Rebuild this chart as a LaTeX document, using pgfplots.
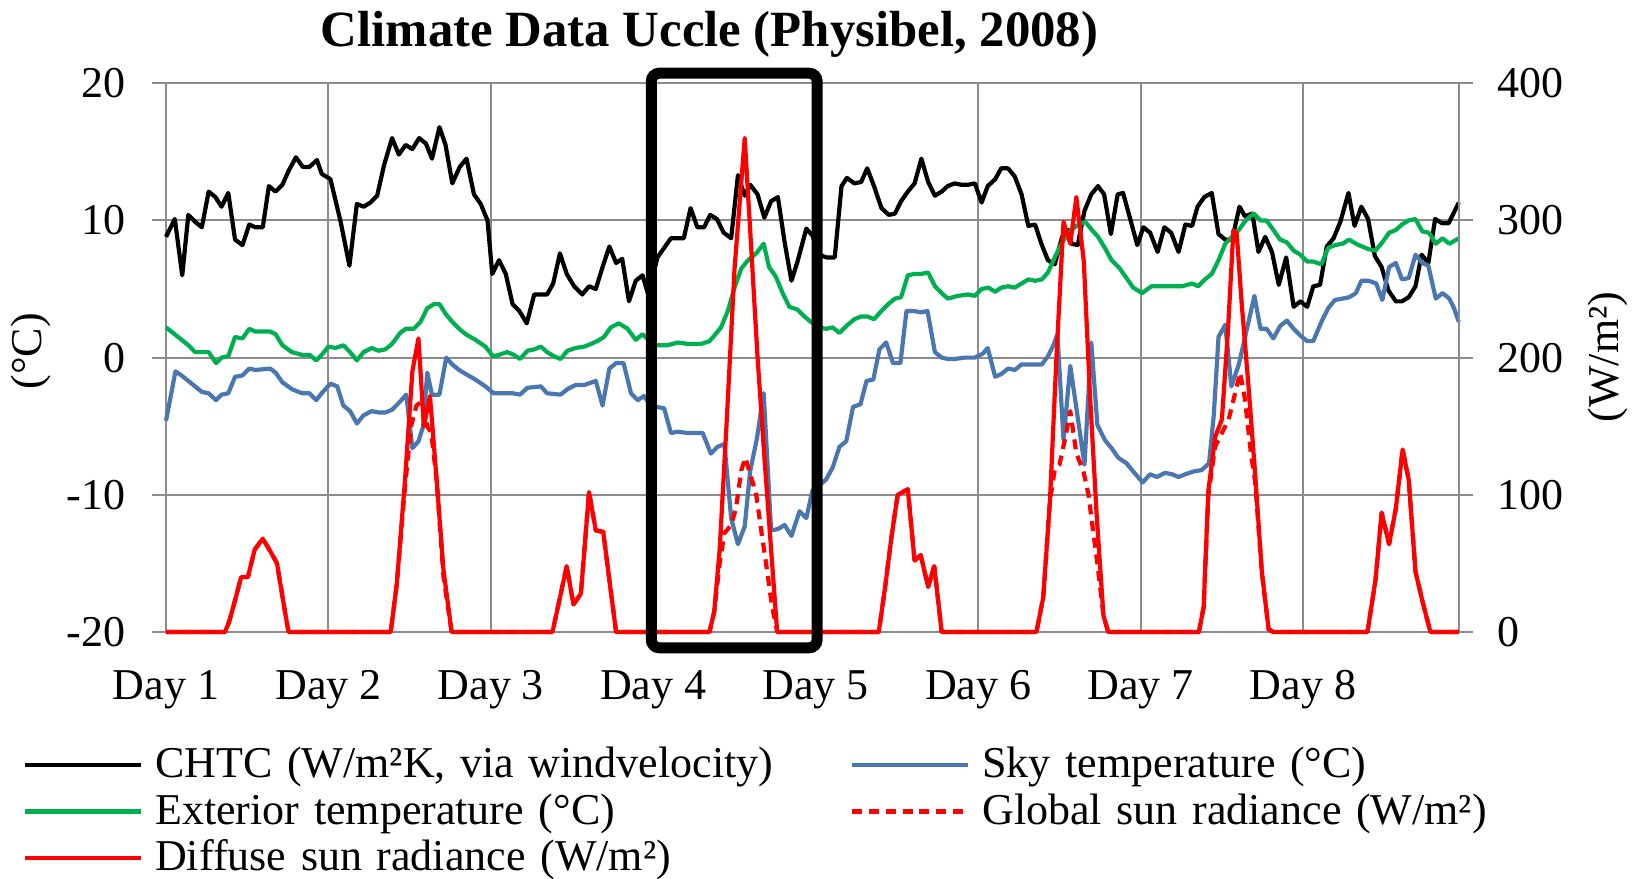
\documentclass[border=0pt]{standalone}
\usepackage{fontspec}
\setmainfont{Liberation Serif}
\usepackage{pgfplots}
\pgfplotsset{compat=1.18}
\definecolor{skyblue}{HTML}{4A77B0}
\definecolor{extgreen}{HTML}{00B050}
\definecolor{gridgray}{HTML}{8C8C8C}
\begin{document}
\begin{tikzpicture}
\begin{axis}[
  scale only axis, width=323.2pt, height=137.2pt,
  xmin=0, xmax=191, ymin=-20, ymax=20,
  xtick={0,24,48,72,96,120,144,168},
  xticklabels={Day 1,Day 2,Day 3,Day 4,Day 5,Day 6,Day 7,Day 8},
  ytick={-20,-10,0,10,20},
  yticklabels={-20,-10,0,10,20},
  grid=major, grid style={gridgray, line width=0.5pt},
  axis line style={gridgray, line width=0.5pt},
  ytick pos=left, tick align=outside, major tick length=3.5pt,
  major tick style={gridgray, line width=0.5pt},
  xtick style={draw=none},
  tick label style={font=\fontsize{11}{13}\selectfont},
  yticklabel style={anchor=east, inner sep=0pt, xshift=-6.5pt},
  xticklabel style={anchor=base, inner sep=0pt, yshift=-13.25pt},
  clip=false,
  every axis plot/.append style={line width=1.05pt, line join=round},
]
% CHTC
\addplot[black] coordinates {
(0,8.8)(1.3,10.1)(2.4,6.0)(3.3,10.4)(4.3,9.9)(5.3,9.5)(6.3,12.1)(7.3,11.7)(8.2,11.0)(9.2,12.0)
(10.2,8.6)(11.3,8.2)(12.3,9.7)(13.2,9.5)(14.3,9.5)(15.2,12.5)(16.2,12.1)(17.2,12.6)(18.1,13.6)(19.2,14.6)
(20.2,13.9)(21.2,13.9)(22.3,14.4)(23,13.4)(24.3,13.0)(25.8,9.9)(27.1,6.7)(28.2,11.2)(29.2,11.0)(30.2,11.3)
(31.2,11.8)(32.2,14.0)(33.4,16.0)(34.4,14.8)(35.4,15.5)(36.4,15.2)(37.4,16.0)(38.4,15.6)(39.3,14.5)(40.4,16.8)
(41.3,15.5)(42.3,12.7)(43.4,13.9)(44.4,14.5)(45.5,11.9)(46.5,11.2)(47.5,10.0)(48.2,6.1)(49.2,7.1)(50.2,6.1)
(51.2,3.9)(52.2,3.4)(53.3,2.5)(54.4,4.6)(55.4,4.6)(56.3,4.6)(57.2,5.4)(58.2,7.6)(59.2,6.1)(60.3,5.2)
(61.5,4.6)(62.5,5.2)(63.5,5.0)(64.5,6.6)(65.5,8.1)(66.5,6.9)(67.4,7.2)(68.4,4.1)(69.4,5.6)(70.4,6.0)
(71.3,4.5)(72.2,6.5)(72.6,7.3)(73.6,8.0)(74.6,8.7)(76.5,8.7)(77.5,10.9)(78.5,9.5)(79.5,9.5)(80.4,10.4)
(81.4,10.1)(82.4,9.1)(83.5,8.7)(84.5,13.3)(85.5,11.8)(86.3,12.6)(87.4,11.9)(88.4,10.2)(89.4,11.4)(90.4,11.7)
(91.4,8.4)(92.4,5.6)(93.3,7.0)(94.6,9.4)(95.5,8.9)(96.5,7.5)(97.6,7.3)(98.8,7.3)(99.8,12.5)(100.6,13.1)
(101.7,12.7)(102.7,12.8)(103.6,13.8)(104.6,12.5)(105.7,10.9)(106.8,10.4)(107.7,10.5)(108.6,11.4)(109.6,12.1)(110.6,12.7)
(111.6,14.5)(112.6,12.8)(113.6,11.8)(114.6,12.1)(115.5,12.5)(116.5,12.7)(117.5,12.6)(118.5,12.6)(119.5,12.7)(120.5,11.3)
(121.4,12.5)(122.5,13.0)(123.4,13.8)(124.4,13.8)(125.4,13.2)(126.4,11.9)(127.4,9.6)(128.4,9.7)(129.4,8.2)(130.3,7.1)
(131.3,6.8)(132.4,8.8)(133.3,9.3)(133.8,8.3)(134.7,8.2)(135.7,10.7)(136.7,11.9)(137.7,12.5)(138.6,11.9)(139.6,9.0)
(140.6,11.9)(141.4,12.0)(142.4,10.2)(143.5,8.2)(144.4,9.5)(145.4,9.1)(146.5,7.7)(147.5,9.5)(148.5,9.1)(149.6,7.7)
(150.6,9.7)(151.6,9.6)(152.4,11.0)(153.4,11.7)(154.5,12.0)(155.5,9.0)(156.5,8.6)(157.5,8.6)(158.6,11.0)(159.4,10.3)
(160.5,10.5)(161.4,7.7)(162.4,8.8)(163.4,7.7)(164.4,5.3)(165.5,7.3)(166.6,3.7)(167.6,4.1)(168.6,3.7)(169.5,5.2)
(170.5,5.3)(171.5,8.1)(172.5,8.7)(173.5,9.9)(174.7,12.0)(175.6,9.6)(176.6,11.0)(177.6,10.1)(178.6,7.4)(179.6,6.6)
(180.6,4.9)(181.7,4.1)(182.6,4.1)(183.6,4.4)(184.6,5.2)(185.5,7.5)(186.5,6.9)(187.5,10.1)(188.5,9.8)(189.5,9.8)
(190.3,10.6)(191,11.3)
};
% Sky temperature
\addplot[skyblue] coordinates {
(0,-4.6)(1.4,-1.0)(2.3,-1.3)(3.3,-1.7)(4.3,-2.1)(5.3,-2.5)(6.3,-2.6)(7.4,-3.1)(8.2,-2.7)(9.2,-2.6)
(10.2,-1.4)(11.3,-1.3)(12.3,-0.8)(13.2,-0.9)(15.4,-0.8)(16.2,-1.1)(17.2,-1.8)(18.6,-2.3)(20.1,-2.6)(21.2,-2.6)
(22.2,-3.1)(23,-2.6)(24.3,-1.9)(25.3,-2.1)(26.2,-3.5)(27.2,-3.9)(28.2,-4.8)(29.2,-4.2)(30.4,-3.9)(31.4,-4.0)
(32.4,-4.0)(33.4,-3.8)(34.4,-3.3)(35.5,-2.7)(36.4,-6.6)(37.3,-6.1)(38.0,-5.0)(38.6,-1.1)(39.3,-2.7)(40.4,-2.7)
(41.4,0.0)(42.3,-0.5)(43.3,-0.9)(44.3,-1.2)(45.7,-1.6)(47.2,-2.1)(48.4,-2.6)(49.4,-2.6)(51.2,-2.6)(52.3,-2.7)
(53.4,-2.2)(55.4,-2.1)(56.3,-2.6)(58.3,-2.7)(59.3,-2.3)(60.5,-2.0)(61.8,-2.0)(63.5,-1.7)(64.5,-3.5)(65.5,-0.8)
(66.5,-0.4)(67.6,-0.4)(68.7,-2.6)(69.7,-3.1)(70.6,-2.8)(71.6,-3.5)(72.6,-3.6)(73.6,-3.7)(74.6,-5.5)(75.6,-5.4)
(77.1,-5.5)(79.3,-5.5)(80.5,-7.0)(81.5,-6.5)(82.5,-6.3)(83.5,-11.7)(84.5,-13.6)(85.5,-12.3)(86.3,-8.3)(87.3,-5.9)
(88.3,-2.6)(89.4,-12.6)(90.4,-12.5)(91.4,-12.2)(92.4,-13.0)(93.6,-11.2)(94.6,-11.7)(95.5,-9.7)(96.5,-9.3)(97.5,-8.9)
(98.5,-8.0)(99.5,-6.5)(100.5,-6.1)(101.5,-3.6)(102.6,-3.4)(103.5,-1.7)(104.5,-1.6)(105.4,0.6)(106.4,1.1)(107.4,-0.4)
(108.5,-0.4)(109.4,3.4)(110.4,3.4)(111.6,3.3)(112.5,3.4)(113.6,0.4)(114.6,0.0)(115.5,-0.1)(116.5,-0.1)(118.0,0.0)
(119.5,0.0)(120.7,0.3)(121.4,0.7)(122.5,-1.4)(123.4,-1.2)(124.4,-0.8)(125.4,-0.9)(126.4,-0.5)(127.4,-0.5)(128.4,-0.5)
(129.4,-0.5)(130.3,0.1)(131.1,0.9)(131.7,1.7)(132.6,-6.0)(133.6,-0.6)(135.7,-7.8)(136.7,1.1)(137.6,-4.9)(138.7,-6.0)
(139.7,-6.6)(140.7,-7.3)(141.9,-7.7)(142.9,-8.3)(144.3,-9.1)(145.4,-8.5)(146.4,-8.7)(147.6,-8.4)(148.6,-8.5)(149.6,-8.7)
(150.6,-8.5)(151.8,-8.3)(153.0,-8.2)(154.1,-7.7)(154.8,-4.2)(155.5,1.5)(156.5,2.4)(157.4,-2.1)(158.5,-0.5)(159.7,2.1)
(160.8,4.5)(161.7,2.1)(162.6,2.1)(163.6,1.4)(164.6,2.3)(165.6,2.7)(166.6,2.1)(167.6,1.6)(168.6,1.2)(169.5,1.2)
(170.7,2.6)(171.7,3.6)(172.7,4.2)(173.8,4.3)(174.8,4.4)(175.8,4.7)(176.6,5.6)(177.7,5.6)(178.8,5.4)(179.7,4.2)
(180.7,6.6)(181.7,6.9)(182.6,5.7)(183.6,5.8)(184.6,7.5)(185.6,6.9)(186.5,6.7)(187.6,4.3)(188.6,4.7)(189.6,4.3)
(190.3,3.6)(191,2.6)
};
% Exterior temperature
\addplot[extgreen] coordinates {
(0,2.2)(1.3,1.7)(2.3,1.3)(3.3,0.9)(4.3,0.4)(6.3,0.4)(7.4,-0.4)(8.2,0.0)(9.2,0.1)(10.2,1.5)
(11.3,1.4)(12.3,2.1)(13.2,1.9)(15.4,1.9)(16.2,1.7)(17.2,0.9)(18.6,0.4)(20.1,0.2)(21.2,0.2)(22.2,-0.2)
(23,0.2)(24,0.8)(25,0.7)(26.2,0.9)(27.2,0.4)(28.2,-0.2)(29.2,0.4)(30.4,0.7)(31.4,0.5)(32.4,0.6)
(33.4,1.0)(34.6,1.8)(35.4,2.1)(36.6,2.1)(37.6,2.6)(38.6,3.6)(39.6,3.9)(40.4,3.9)(41.3,3.2)(42.3,2.6)
(43.3,2.1)(44.3,1.7)(45.7,1.3)(47.2,0.8)(48.3,0.1)(49.2,0.2)(50.4,0.4)(51.4,0.2)(52.3,-0.1)(53.4,0.5)
(54.4,0.6)(55.4,0.8)(56.3,0.4)(57.3,0.1)(58.3,-0.1)(59.3,0.5)(60.5,0.7)(61.8,0.8)(62.8,1.0)(63.7,1.2)
(64.7,1.5)(65.7,2.2)(66.9,2.5)(68.2,2.1)(69.4,1.3)(70.4,1.7)(71.5,1.2)(72.6,0.9)(74.1,0.9)(75.6,1.1)
(77.1,1.0)(79.1,1.0)(80.3,1.2)(81.0,1.6)(82.0,2.2)(83.0,3.4)(84.0,5.1)(85.0,6.5)(86.0,7.1)(87.2,7.6)
(88.3,8.3)(89.1,6.6)(90.1,5.9)(91.1,4.7)(92.1,3.7)(93.3,3.5)(94.3,3.0)(95.3,2.6)(96.5,2.2)(97.5,2.1)
(98.5,2.2)(99.5,1.8)(100.5,2.3)(101.7,2.8)(102.7,3.0)(103.6,3.0)(104.6,2.8)(105.7,3.4)(106.7,3.9)(107.7,4.3)
(108.6,4.4)(109.6,6.0)(110.6,6.1)(111.6,6.1)(112.6,6.2)(113.6,5.2)(114.6,4.7)(115.5,4.3)(117.0,4.5)(118.5,4.6)
(119.5,4.5)(120.5,5.0)(121.5,5.1)(122.5,4.8)(123.4,5.1)(124.4,5.2)(125.4,5.1)(126.4,5.4)(127.4,5.7)(128.4,5.6)
(129.4,5.7)(130.3,6.2)(131.3,7.3)(132.3,8.3)(133.3,9.1)(134.5,9.6)(135.8,9.9)(136.8,9.3)(137.7,8.8)(138.7,8.0)
(139.7,7.1)(140.9,6.5)(141.9,5.8)(142.9,5.1)(144.2,4.7)(145.6,5.2)(147.1,5.2)(148.6,5.2)(150.1,5.2)(151.6,5.4)
(152.5,5.2)(153.5,5.7)(154.5,6.1)(155.5,7.1)(156.5,8.3)(157.5,8.8)(158.5,9.3)(159.5,10.0)(160.7,10.5)(161.7,10.0)
(162.6,10.0)(163.6,9.3)(164.6,8.6)(165.6,8.4)(166.6,7.8)(167.6,7.5)(168.6,7.0)(169.5,7.0)(170.7,6.8)(171.7,8.0)
(172.7,8.2)(173.8,8.3)(174.8,8.6)(175.8,8.3)(176.7,8.1)(177.7,7.9)(178.7,7.8)(179.7,8.4)(180.7,9.1)(181.7,9.3)
(182.6,9.7)(183.6,10.0)(184.6,10.1)(185.6,9.2)(186.6,9.1)(187.6,8.3)(188.6,8.7)(189.6,8.3)(190.3,8.5)(191,8.7)
};
\end{axis}
\begin{axis}[
  scale only axis, width=323.2pt, height=137.2pt,
  xmin=0, xmax=191, ymin=0, ymax=400,
  axis y line*=right, axis x line=none,
  ytick={0,100,200,300,400},
  yticklabels={0,100,200,300,400},
  tick align=outside, major tick length=3.5pt,
  major tick style={gridgray, line width=0.5pt},
  axis line style={gridgray, line width=0.5pt},
  tick label style={font=\fontsize{11}{13}\selectfont},
  yticklabel style={anchor=west, inner sep=0pt, xshift=6pt},
  clip=false,
  every axis plot/.append style={line width=1.05pt, line join=round},
  legend columns=2,
  legend cell align=left,
  legend style={at={(-0.11061,-0.20022)}, anchor=north west, draw=none, fill=none,
    inner sep=0pt, outer sep=0pt, row sep=0pt, column sep=3pt,
    font=\fontsize{11}{13}\selectfont,
    nodes={inner sep=0pt, text height=9pt, text depth=2.6pt, text width=170.75pt, align=left}},
  legend image code/.code={\draw[#1, line width=1.05pt] (0pt,0pt) -- (29pt,0pt);},
]
\addlegendimage{black}
\addlegendentry{CHTC (W/m²K, via windvelocity)}
\addlegendimage{skyblue}
\addlegendentry{Sky temperature (°C)}
\addlegendimage{extgreen}
\addlegendentry{Exterior temperature (°C)}
% Global sun radiance (dashed)
\addplot[red, dash pattern=on 2.5pt off 1.7pt] coordinates {
(0,0)(8.7,0)(9.3,7)(10.2,23)(11.1,40)(12.1,40)(13.1,60)(14.3,68)(15.4,59)(16.4,50)(17.4,20)(18.1,0)
(33.2,0)(34.1,35)(35.3,105)(36.2,150)(37.0,165)(37.8,168)(38.6,150)(39.2,145)(40.0,110)(41.0,40)(42.2,0)
(57.1,0)(58.2,25)(59.2,48)(60.2,20)(61.3,28)(62.5,102)(63.5,74)(64.6,73)(65.5,38)(66.5,0)
(80.3,0)(81.0,15)(81.8,50)(82.5,72)(83.5,78)(84.2,90)(85.0,118)(85.6,127)(86.5,112)(87.2,100)(88.0,72)(88.8,45)(89.5,20)(90.3,0)
(105.3,0)(106.2,31)(107.2,70)(108.1,100)(109.6,104)(110.6,52)(111.5,56)(112.6,33)(113.5,48)(114.6,0)
(128.6,0)(129.6,25)(130.6,96)(131.3,118)(132.0,122)(132.8,140)(133.6,161)(134.5,130)(135.5,118)(136.3,100)(136.8,80)(137.6,50)(138.5,12)(139.2,0)
(152.6,0)(153.3,18)(154.0,100)(155.0,135)(156.0,145)(157.0,155)(158.0,175)(158.7,189)(159.4,170)(160.3,130)(160.9,110)(161.9,44)(162.9,2)(163.6,0)
(177.5,0)(178.7,38)(179.6,87)(180.7,64)(181.7,90)(182.7,133)(183.6,111)(184.6,44)(185.6,23)(186.8,0)(191,0)
};
\addlegendentry{Global sun radiance (W/m²)}
% Diffuse sun radiance (solid)
\addplot[red] coordinates {
(0,0)(8.7,0)(9.3,7)(10.2,23)(11.1,40)(12.1,40)(13.1,60)(14.3,68)(15.4,59)(16.4,50)(17.4,20)(18.1,0)
(33.2,0)(34.1,35)(35.3,110)(36.4,190)(37.3,214)(38.1,150)(39.0,172)(40.0,110)(41.0,45)(42.2,0)
(57.1,0)(58.2,25)(59.2,48)(60.2,20)(61.3,28)(62.5,102)(63.5,74)(64.6,73)(65.5,38)(66.5,0)
(80.3,0)(81.0,15)(81.8,60)(82.8,150)(84.0,265)(85.5,360)(86.4,285)(87.4,200)(88.4,128)(89.4,60)(90.3,0)
(105.3,0)(106.2,31)(107.2,70)(108.1,100)(109.6,104)(110.6,52)(111.5,56)(112.6,33)(113.5,48)(114.6,0)
(128.6,0)(129.6,25)(130.6,96)(131.6,205)(132.6,299)(133.6,283)(134.5,317)(135.6,270)(136.5,174)(137.5,85)(138.5,12)(139.2,0)
(152.6,0)(153.3,18)(154.0,103)(155.0,142)(156.0,155)(156.9,220)(157.7,293)(158.2,290)(158.9,241)(159.9,181)(160.9,116)(161.9,44)(162.9,2)(163.6,0)
(177.5,0)(178.7,38)(179.6,87)(180.7,64)(181.7,90)(182.7,133)(183.6,111)(184.6,44)(185.6,23)(186.8,0)(191,0)
};
\addlegendentry{Diffuse sun radiance (W/m²)}
\draw[black, line width=2.75pt, rounded corners=2pt] (axis cs:71.7,-11.5) rectangle (axis cs:96.2,407.3);
\end{axis}
\node[font=\bfseries\fontsize{12.7}{15}\selectfont, anchor=base] at (135.9pt,146.25pt) {Climate Data Uccle (Physibel, 2008)};
\node[rotate=90, font=\fontsize{11}{13}\selectfont] at (-33.8pt,70.2pt) {(°C)};
\node[rotate=90, font=\fontsize{11}{13}\selectfont] at (360.5pt,68.75pt) {(W/m²)};
\pgfresetboundingbox
\path[use as bounding box] (-41.5pt,-61.75pt) rectangle (369pt,158pt);
\end{tikzpicture}
\end{document}
